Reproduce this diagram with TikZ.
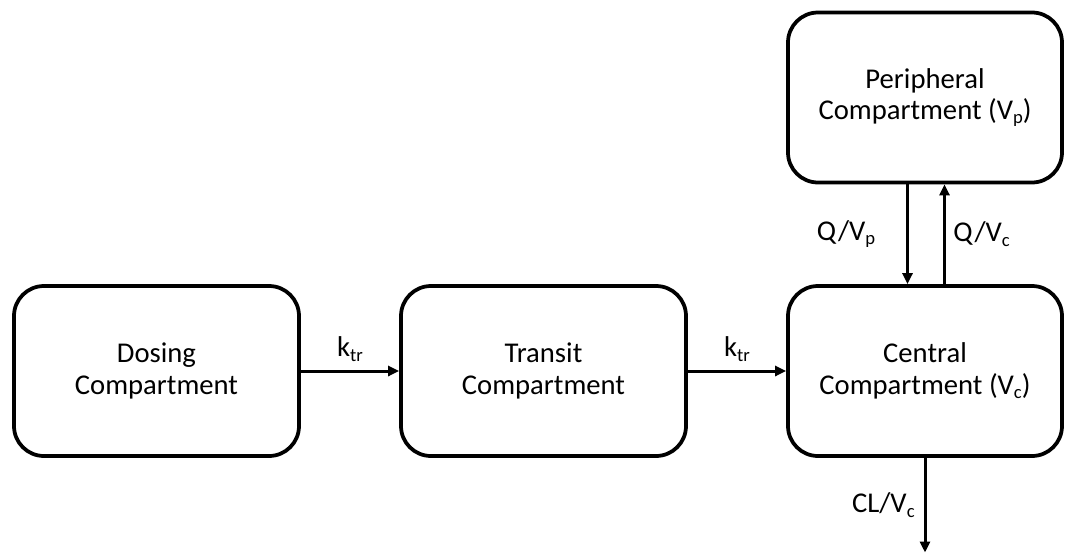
\documentclass[tikz,border=0pt]{standalone}
\usepackage{fontspec}
\setmainfont{Carlito}
\usetikzlibrary{positioning,arrows.meta}
\newcommand\lowsub[1]{\raisebox{-0.16em}{\fontsize{10.6}{10.6}\selectfont #1}}

\begin{document}
\begin{tikzpicture}[
        >={Triangle[length=2.2mm,width=2mm]},
        boxnode/.style={rectangle, rounded corners=6mm, draw=black, line width=0.75mm,
            minimum width=57mm, minimum height=34mm, align=center,
            font=\fontsize{16.3}{17.8}\selectfont},
        flow/.style={line width=0.6mm, ->},
        rate/.style={font=\fontsize{16.3}{17.8}\selectfont}]
        \useasboundingbox (0,0) rectangle (21.32,11.1);
        \node[boxnode] at (3.13, 3.68) (DOS) {Dosing\\Compartment};
        \node[boxnode] at (10.87, 3.68) (TRA) {Transit\\Compartment};
        \node[boxnode, minimum width=54.8mm] at (18.5, 3.68) (CEN) {Central\\Compartment (V\lowsub{c})};
        \node[boxnode, minimum width=54.8mm] at (18.5, 9.15) (PER) {Peripheral\\Compartment (V\lowsub{p})};
        \coordinate (ELIM) at (18.5, 0.05);
        % absorption chain
        \draw[flow] (DOS) -- node[rate, above=0.5mm] {k\lowsub{tr}} (TRA);
        \draw[flow] (TRA) -- node[rate, above=0.5mm] {k\lowsub{tr}} (CEN);
        % distribution
        \draw[flow] ([xshift=-3.5mm]PER.south) -- node[rate, left=5mm] {Q/V\lowsub{p}} ([xshift=-3.5mm]CEN.north);
        \draw[flow] ([xshift=3.9mm]CEN.north) -- node[rate, right=0.3mm] {Q/V\lowsub{c}} ([xshift=3.9mm]PER.south);
        % elimination
        \draw[flow] (CEN.south) -- node[rate, left=0.6mm] {CL/V\lowsub{c}} (ELIM);
\end{tikzpicture}
\end{document}
